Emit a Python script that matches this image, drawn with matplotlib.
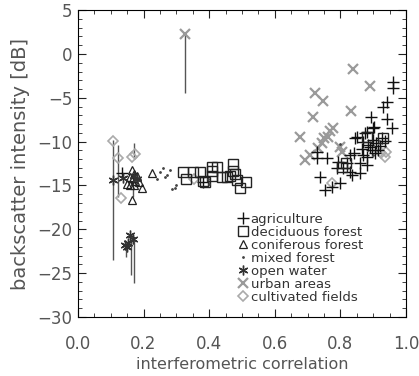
import matplotlib
matplotlib.use("Agg")
import matplotlib.pyplot as plt
from matplotlib.ticker import MultipleLocator

# data (interferometric correlation, backscatter dB)
agri_x = [0.96, 0.96, 0.942, 0.93, 0.893, 0.942, 0.957, 0.902, 0.85, 0.875, 0.884, 0.91,
          0.927, 0.896, 0.869, 0.83, 0.86, 0.84, 0.82, 0.793, 0.808, 0.829, 0.86, 0.835,
          0.73, 0.76, 0.73, 0.738, 0.753, 0.8, 0.79, 0.88, 0.845, 0.88, 0.9, 0.89, 0.905,
          0.88, 0.87, 0.915, 0.92, 0.865, 0.9, 0.935, 0.775, 0.134, 0.38]
agri_y = [-3.2, -3.9, -5.5, -6.1, -7.2, -7.4, -8.5, -8.3, -9.5, -9.0, -10.4, -10.2,
          -9.6, -11.0, -11.5, -11.5, -12.4, -11.3, -12.4, -12.3, -13.0, -13.5, -13.6, -13.8,
          -11.9, -11.9, -11.2, -14.0, -15.5, -14.7, -13.0, -12.7, -9.6, -8.9, -8.5, -10.6, -11.3,
          -11.7, -10.0, -11.0, -10.5, -10.8, -9.8, -9.9, -15.2, -13.6, -14.6]

decid_x = [0.32, 0.329, 0.351, 0.372, 0.381, 0.41, 0.41, 0.424, 0.41, 0.44, 0.454, 0.472,
           0.474, 0.479, 0.463, 0.484, 0.512, 0.494, 0.388, 0.88, 0.93, 0.817, 0.805]
decid_y = [-13.5, -14.3, -13.5, -13.5, -14.5, -12.9, -13.3, -12.9, -13.9, -14.0, -14.0, -12.6,
           -13.3, -13.7, -13.9, -14.4, -14.6, -15.3, -14.6, -9.5, -9.6, -12.4, -12.9]

conif_x = [0.226, 0.165, 0.168, 0.159, 0.195, 0.165, 0.17, 0.175, 0.16, 0.18, 0.172, 0.15, 0.185]
conif_y = [-13.6, -13.2, -14.2, -15.0, -15.3, -16.7, -13.7, -14.5, -14.0, -13.9, -15.0, -14.8, -14.6]

mixed_x = [0.25, 0.26, 0.272, 0.296, 0.288, 0.3, 0.24, 0.265, 0.4, 0.395, 0.28, 0.9, 0.8]
mixed_y = [-13.5, -13.0, -13.8, -15.3, -15.4, -15.0, -14.3, -14.0, -14.8, -14.3, -13.2, -11.5, -10.3]

water_x = [0.107, 0.138, 0.18, 0.17, 0.159, 0.168, 0.152, 0.149, 0.143]
water_y = [-14.4, -14.2, -14.3, -13.9, -20.7, -21.1, -21.6, -22.0, -21.8]

urban_x = [0.838, 0.89, 0.723, 0.748, 0.832, 0.717, 0.777, 0.768, 0.677, 0.75, 0.744,
           0.732, 0.707, 0.692, 0.8, 0.805, 0.762, 0.326]
urban_y = [-1.7, -3.6, -4.5, -5.4, -6.5, -7.2, -8.5, -8.8, -9.5, -9.6, -10.2,
           -10.7, -11.5, -12.1, -10.6, -11.2, -9.5, 2.3]

cult_x = [0.107, 0.122, 0.165, 0.174, 0.131, 0.94, 0.925, 0.935, 0.775, 0.355]
cult_y = [-9.9, -11.9, -11.8, -11.4, -16.4, -11.2, -11.3, -11.8, -14.7, -14.3]

# vertical range bars: x, lower, upper
bar_x = [0.107, 0.122, 0.17, 0.326, 0.146, 0.162, 0.171, 0.168]
bar_lo = [-23.5, -16.3, -11.8, -4.5, -23.2, -25.2, -26.1, -16.3]
bar_hi = [-9.8, -10.4, -10.2, 2.3, -22.0, -21.2, -21.0, -14.5]

fig = plt.figure(figsize=(4.19, 3.76), dpi=100)
ax = fig.add_axes([0.186, 0.157, 0.783, 0.816])

ax.vlines(bar_x, bar_lo, bar_hi, color="#555555", lw=1.0, zorder=1)

ax.plot(agri_x, agri_y, ls="none", marker="+", ms=8, mew=1.0, color="#111111",
        label="agriculture", zorder=3)
ax.plot(decid_x, decid_y, ls="none", marker="s", ms=7.5, mew=1.0, mfc="none", mec="#222222",
        label="deciduous forest", zorder=3)
ax.plot(conif_x, conif_y, ls="none", marker="^", ms=5.5, mew=0.9, mfc="none", mec="#222222",
        label="coniferous forest", zorder=3)
ax.plot(mixed_x, mixed_y, ls="none", marker=".", ms=2, color="#444444",
        label="mixed forest", zorder=3)
ax.plot(water_x, water_y, ls="none", marker=(6, 2, 0), ms=7, mew=1.0, color="#333333",
        label="open water", zorder=3)
ax.plot(urban_x, urban_y, ls="none", marker="x", ms=7, mew=1.6, color="#9a9a9a",
        label="urban areas", zorder=2)
ax.plot(cult_x, cult_y, ls="none", marker="D", ms=5, mew=1.2, mfc="none", mec="#aaaaaa",
        label="cultivated fields", zorder=2)

ax.set_xlim(0, 1)
ax.set_ylim(-30, 5)
ax.xaxis.set_major_locator(MultipleLocator(0.2))
ax.xaxis.set_minor_locator(MultipleLocator(0.05))
ax.yaxis.set_major_locator(MultipleLocator(5))
ax.yaxis.set_minor_locator(MultipleLocator(1))
ax.tick_params(which="both", direction="in", top=True, right=True, colors="#222222",
               labelcolor="#555555", labelsize=12)
ax.tick_params(axis="x", which="major", pad=13)
ax.tick_params(axis="y", which="major", pad=4)
ax.tick_params(which="major", length=6)
ax.tick_params(which="minor", length=3)
ax.xaxis.set_major_formatter(plt.FuncFormatter(lambda v, p: f"{v:.1f}"))

ax.set_xlabel("interferometric correlation", fontsize=11.5, color="#555555", labelpad=3)
ax.set_ylabel("backscatter intensity [dB]", fontsize=14, color="#555555", labelpad=5)

ax.legend(loc="upper left", bbox_to_anchor=(0.47, 0.36), frameon=False, fontsize=9.5,
          handlelength=0.6, handletextpad=0.3, labelspacing=0.0, borderpad=0,
          labelcolor="#333333")

fig.savefig("out.png", dpi=100)
